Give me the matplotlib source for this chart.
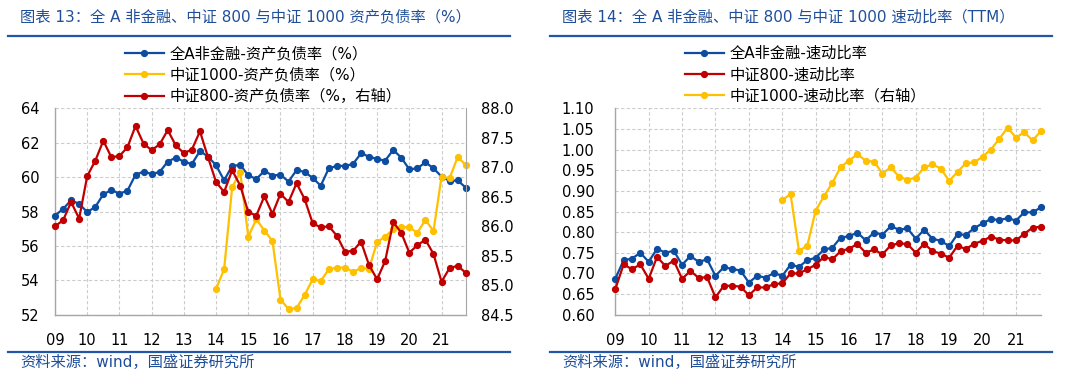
import matplotlib
matplotlib.use('Agg')
import matplotlib.pyplot as plt
from matplotlib.lines import Line2D
from matplotlib.ticker import MultipleLocator, FormatStrFormatter
import numpy as np

plt.rcParams['font.family'] = ['DejaVu Sans', 'Noto Sans CJK SC']

# ---------------- data (quarterly, 2009Q1 - 2021Q4) ----------------
quarters = [f"{y}Q{q}" for y in range(2009, 2022) for q in range(1, 5)]
year_labels = ['09', '10', '11', '12', '13', '14', '15', '16', '17', '18', '19', '20', '21']

nan = np.nan
# Chart 13: debt-to-asset ratio (%)
a_nonfin_debt = [57.76, 58.15, 58.65, 58.44, 57.97, 58.26, 59.00, 59.25, 59.04, 59.21,
                 60.14, 60.32, 60.18, 60.30, 60.90, 61.13, 60.90, 60.76, 61.52, 61.19,
                 60.69, 59.81, 60.65, 60.71, 60.10, 59.89, 60.36, 60.09, 60.14, 59.74,
                 60.41, 60.30, 59.95, 59.50, 60.51, 60.65, 60.65, 60.76, 61.38, 61.19,
                 61.05, 60.96, 61.58, 61.13, 60.45, 60.51, 60.86, 60.51, 60.03, 59.78,
                 59.81, 59.39]
csi1000_debt = [nan] * 20 + [53.50, 54.64, 59.41, 60.30, 56.54, 57.55, 56.89, 56.29, 52.88, 52.33,
                             52.39, 53.15, 54.06, 53.96, 54.64, 54.74, 54.74, 54.50, 54.70, 54.68,
                             56.23, 56.54, 56.97, 57.10, 57.08, 56.77, 57.51, 56.87, 60.03, 59.93,
                             61.17, 60.71]
csi800_debt = [86.00, 86.10, 86.41, 86.13, 86.85, 87.11, 87.45, 87.17, 87.19, 87.34,
               87.70, 87.40, 87.29, 87.39, 87.63, 87.37, 87.24, 87.30, 87.61, 87.17,
               86.75, 86.58, 86.95, 86.69, 86.24, 86.18, 86.51, 86.21, 86.55, 86.41,
               86.73, 86.46, 86.05, 85.98, 86.00, 85.84, 85.57, 85.58, 85.74, 85.34,
               85.10, 85.41, 86.07, 85.89, 85.55, 85.68, 85.77, 85.53, 85.06, 85.29,
               85.33, 85.21]

# Chart 14: quick ratio (TTM)
a_nonfin_quick = [0.687, 0.732, 0.736, 0.750, 0.728, 0.760, 0.750, 0.755, 0.721, 0.742,
                  0.728, 0.734, 0.694, 0.715, 0.711, 0.707, 0.678, 0.694, 0.690, 0.701,
                  0.694, 0.721, 0.716, 0.732, 0.738, 0.758, 0.762, 0.787, 0.790, 0.799,
                  0.780, 0.799, 0.794, 0.814, 0.806, 0.809, 0.784, 0.806, 0.784, 0.779,
                  0.766, 0.795, 0.793, 0.810, 0.821, 0.832, 0.829, 0.834, 0.828, 0.848,
                  0.848, 0.860]
csi800_quick = [0.662, 0.722, 0.710, 0.722, 0.687, 0.740, 0.718, 0.731, 0.687, 0.706,
                0.689, 0.691, 0.642, 0.670, 0.670, 0.668, 0.647, 0.666, 0.666, 0.674,
                0.676, 0.700, 0.700, 0.710, 0.721, 0.740, 0.734, 0.754, 0.760, 0.771,
                0.750, 0.758, 0.746, 0.768, 0.773, 0.771, 0.750, 0.772, 0.754, 0.748,
                0.738, 0.767, 0.759, 0.772, 0.779, 0.789, 0.782, 0.780, 0.780, 0.796,
                0.811, 0.813]
csi1000_quick = [nan] * 20 + [0.878, 0.892, 0.755, 0.767, 0.852, 0.887, 0.919, 0.958, 0.973, 0.989,
                              0.973, 0.971, 0.942, 0.957, 0.934, 0.927, 0.932, 0.957, 0.964, 0.954,
                              0.924, 0.946, 0.967, 0.969, 0.983, 1.000, 1.026, 1.053, 1.029, 1.042,
                              1.022, 1.045]

titles = ['图表 13：全 A 非金融、中证 800 与中证 1000 资产负债率（%）',
          '图表 14：全 A 非金融、中证 800 与中证 1000 速动比率（TTM）']
legend13 = ['全A非金融-资产负债率（%）', '中证1000-资产负债率（%）', '中证800-资产负债率（%，右轴）']
legend14 = ['全A非金融-速动比率', '中证800-速动比率', '中证1000-速动比率（右轴）']
source = '资料来源：wind，国盛证券研究所'

# ---------------- style ----------------
BLUE = '#0C4DA2'
YELLOW = '#FFC000'
RED = '#C00000'
HEAD = '#1F4E9A'
GRID = '#CCCCCC'
SPINE = '#A6A6A6'
W, H = 1080, 383
LW = 1.6
MS = 4.2

fig = plt.figure(figsize=(W / 100, H / 100), dpi=100)
x = np.arange(len(quarters))
xt = x[::4]


def fx(px):
    return px / W


def fy(py):
    return 1 - py / H


def style_axis(ax, ylim, step, fmt, ypad):
    ax.set_xlim(x[0], x[-1])
    ax.set_ylim(*ylim)
    ax.yaxis.set_major_locator(MultipleLocator(step))
    ax.yaxis.set_major_formatter(FormatStrFormatter(fmt))
    ax.set_xticks(xt)
    ax.set_xticklabels(year_labels)
    ax.tick_params(axis='x', length=0, pad=13, labelsize=10.5)
    ax.tick_params(axis='y', length=0, pad=ypad, labelsize=10.5)
    ax.grid(True, color=GRID, linestyle=(0, (3, 2)), linewidth=0.8)
    ax.set_axisbelow(True)
    for s in ['top', 'right']:
        ax.spines[s].set_visible(False)
    for s in ['left', 'bottom']:
        ax.spines[s].set_color(SPINE)
        ax.spines[s].set_linewidth(1.0)


def line(ax, y, color):
    return ax.plot(x, y, color=color, lw=LW, marker='o', ms=MS, mec=color, mfc=color,
                   clip_on=False, zorder=3)[0]


leg_kw = dict(loc='upper left', frameon=False, fontsize=11, borderpad=0, borderaxespad=0,
              handlelength=2.55, handletextpad=0.35, labelspacing=0.42)

# ---------------- chart 13 ----------------
ax1 = fig.add_axes([fx(55), fy(314.7), fx(465.7 - 55), (314.7 - 108.3) / H])
style_axis(ax1, (52, 64), 2, '%d', 11)
ax1b = ax1.twinx()
ax1b.set_ylim(84.5, 88.0)
ax1b.yaxis.set_major_locator(MultipleLocator(0.5))
ax1b.yaxis.set_major_formatter(FormatStrFormatter('%.1f'))
ax1b.tick_params(axis='y', length=0, pad=11, labelsize=10.5)
for s in ['top', 'left', 'bottom']:
    ax1b.spines[s].set_visible(False)
ax1b.spines['right'].set_color(SPINE)
h_blue = line(ax1, a_nonfin_debt, BLUE)
h_yel = line(ax1, csi1000_debt, YELLOW)
h_red = line(ax1b, csi800_debt, RED)

fig.legend([h_blue, h_yel, h_red], legend13, bbox_to_anchor=(fx(125), fy(46)), **leg_kw)

# ---------------- chart 14 ----------------
ax2 = fig.add_axes([fx(615.3), fy(314.7), fx(1041 - 615.3), (314.7 - 108.3) / H])
style_axis(ax2, (0.60, 1.10), 0.05, '%.2f', 15)
ax2b = ax2.twinx()
ax2b.set_ylim(0.60, 1.10)
ax2b.set_yticks([])
for s in ax2b.spines.values():
    s.set_visible(False)
g_blue = line(ax2, a_nonfin_quick, BLUE)
g_red = line(ax2, csi800_quick, RED)
g_yel = line(ax2b, csi1000_quick, YELLOW)

fig.legend([g_blue, g_red, g_yel], legend14, bbox_to_anchor=(fx(685), fy(46)), **leg_kw)

# ---------------- headers / footers ----------------
for (x0, x1, tx), t in zip([(8, 510, 20), (550, 1052, 562)], titles):
    fig.text(fx(tx), fy(17), t, color=HEAD, fontsize=11, va='center', ha='left')
    fig.add_artist(Line2D([fx(x0), fx(x1)], [fy(36), fy(36)], color='#2456A4', lw=1.6))
    fig.add_artist(Line2D([fx(x0), fx(x1)], [fy(352), fy(352)], color='#2456A4', lw=1.6))
    fig.text(fx(tx), fy(362), source, color=HEAD, fontsize=11, va='center', ha='left')

fig.savefig('out.png', dpi=100)
